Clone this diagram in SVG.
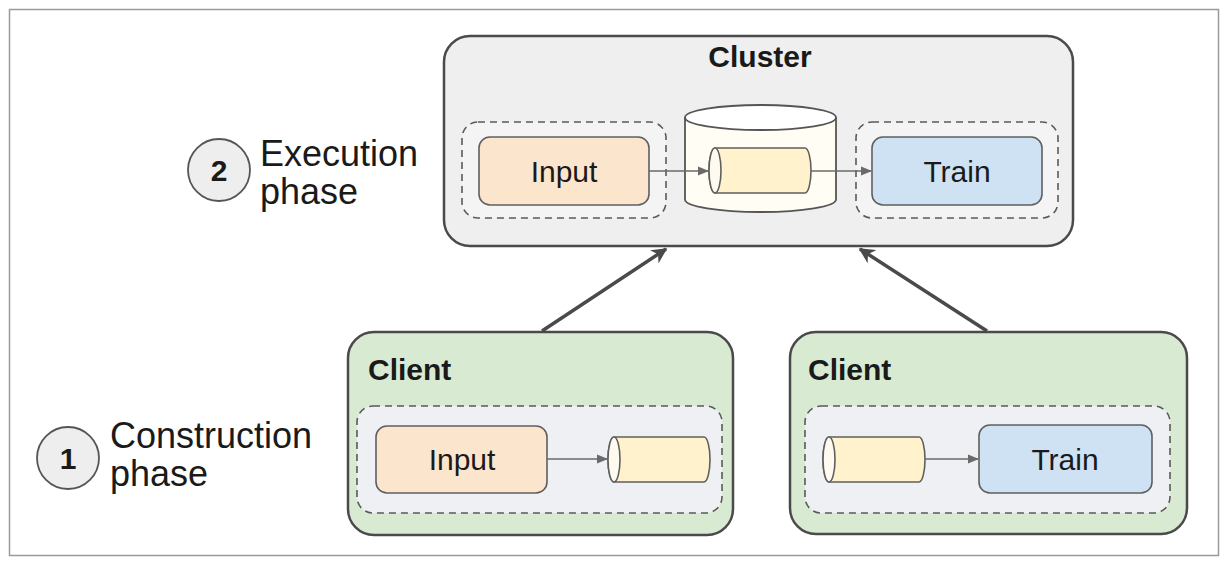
<svg xmlns="http://www.w3.org/2000/svg" width="1228" height="564" viewBox="0 0 1228 564">
<style>
.lbl{font-family:"Liberation Sans",Arial,sans-serif;fill:#1a1a1a}
.title{font-weight:bold;font-size:30px}
.box{font-size:30px}
.phase{font-size:36px}
.num{font-weight:bold;font-size:30px}
.frame{fill:#ffffff;stroke:#9a9a9a;stroke-width:1.5}
.cluster{fill:#efefef;stroke:#4a4a4a;stroke-width:2.5}
.client{fill:#d9ead3;stroke:#4a4a4a;stroke-width:2.5}
.dash{fill:#f4f4f4;stroke:#5a5a5a;stroke-width:1.6;stroke-dasharray:7 5}
.dashc{fill:#eff0f3;stroke:#5a5a5a;stroke-width:1.6;stroke-dasharray:7 5}
.input{fill:#fce5cd;stroke:#5f5f5f;stroke-width:1.6}
.train{fill:#cfe2f3;stroke:#5f5f5f;stroke-width:1.6}
.cyl{fill:#fff2cc;stroke:#5f5f5f;stroke-width:1.6}
.cylend{fill:#fffaf0;stroke:#5f5f5f;stroke-width:1.6}
.bigcyl{fill:#fffdf4;stroke:#555;stroke-width:1.8}
.circ{fill:#eeeeee;stroke:#555;stroke-width:1.8}
.big{stroke:#4a4a4a;stroke-width:3.5;fill:none;marker-end:url(#ah)}
.small{stroke:#6a6a6a;stroke-width:1.6;fill:none;marker-end:url(#sh)}
</style>
<defs>
<marker id="ah" viewBox="0 0 10 10" refX="9" refY="5" markerWidth="4.5" markerHeight="4.5" orient="auto" markerUnits="strokeWidth">
<path d="M0,0 L10,5 L0,10 L3,5 z" fill="#4a4a4a"/>
</marker>
<marker id="sh" viewBox="0 0 10 10" refX="9" refY="5" markerWidth="7" markerHeight="7" orient="auto" markerUnits="strokeWidth">
<path d="M0,1 L10,5 L0,9 z" fill="#6a6a6a"/>
</marker>
</defs>
<rect class="frame" x="9.5" y="9.5" width="1209" height="546"/>

<g id="phase2">
<circle class="circ" cx="219" cy="170" r="31"/>
<text class="lbl num" x="219" y="181" text-anchor="middle">2</text>
<text class="lbl phase" x="260" y="166">Execution</text>
<text class="lbl phase" x="260" y="204">phase</text>
</g>
<g id="phase1">
<circle class="circ" cx="68" cy="458" r="31"/>
<text class="lbl num" x="68" y="469" text-anchor="middle">1</text>
<text class="lbl phase" x="110" y="448">Construction</text>
<text class="lbl phase" x="110" y="486">phase</text>
</g>

<g id="cluster">
<rect class="cluster" x="444" y="36" width="629" height="210" rx="26"/>
<text class="lbl title" x="760" y="67" text-anchor="middle">Cluster</text>
<rect class="dash" x="462" y="122" width="204" height="96" rx="16"/>
<rect class="dash" x="856" y="122" width="202" height="96" rx="16"/>
<g id="cluster-queue">
<path class="bigcyl" d="M685,117.5 V199.5 A75.5,12.5 0 0 0 836,199.5 V117.5"/>
<ellipse class="bigcyl" cx="760.5" cy="117.5" rx="75.5" ry="12.5" style="fill:#ffffff"/>
<path class="cyl" d="M715,148 H805 A6,22.5 0 0 1 805,193 H715 A6,22.5 0 0 1 715,148 Z"/>
<ellipse class="cylend" cx="715" cy="170.5" rx="6" ry="22.5"/>
</g>
<g id="cluster-input">
<rect class="input" x="479" y="137" width="170" height="68" rx="11"/>
<text class="lbl box" x="564" y="182" text-anchor="middle">Input</text>
</g>
<g id="cluster-train">
<rect class="train" x="872" y="137" width="170" height="68" rx="11"/>
<text class="lbl box" x="957" y="182" text-anchor="middle">Train</text>
</g>
</g>

<g id="client1">
<rect class="client" x="348" y="332" width="385" height="203" rx="26"/>
<text class="lbl title" x="368" y="380">Client</text>
<rect class="dashc" x="357" y="406" width="365" height="107" rx="16"/>
<g id="client1-input">
<rect class="input" x="376" y="426" width="171" height="67" rx="11"/>
<text class="lbl box" x="462" y="470" text-anchor="middle">Input</text>
</g>
<g id="client1-queue">
<path class="cyl" d="M614,437 H704 A6,22.5 0 0 1 704,482 H614 A6,22.5 0 0 1 614,437 Z"/>
<ellipse class="cylend" cx="614" cy="459.5" rx="6" ry="22.5"/>
</g>
</g>

<g id="client2">
<rect class="client" x="790" y="332" width="397" height="202" rx="26"/>
<text class="lbl title" x="808" y="380">Client</text>
<rect class="dashc" x="805" y="406" width="365" height="107" rx="16"/>
<g id="client2-queue">
<path class="cyl" d="M829,437 H919 A6,22.5 0 0 1 919,482 H829 A6,22.5 0 0 1 829,437 Z"/>
<ellipse class="cylend" cx="829" cy="459.5" rx="6" ry="22.5"/>
</g>
<g id="client2-train">
<rect class="train" x="979" y="425" width="173" height="68" rx="11"/>
<text class="lbl box" x="1065" y="470" text-anchor="middle">Train</text>
</g>
</g>

<g id="connectors">
<line class="small" x1="649" y1="171" x2="708" y2="171"/>
<line class="small" x1="811" y1="171" x2="871" y2="171"/>
<line class="small" x1="547" y1="459" x2="607" y2="459"/>
<line class="small" x1="925" y1="459" x2="978" y2="459"/>
<line class="big" x1="542" y1="331" x2="666" y2="249"/>
<line class="big" x1="987" y1="331" x2="860" y2="249"/>
</g>
</svg>
